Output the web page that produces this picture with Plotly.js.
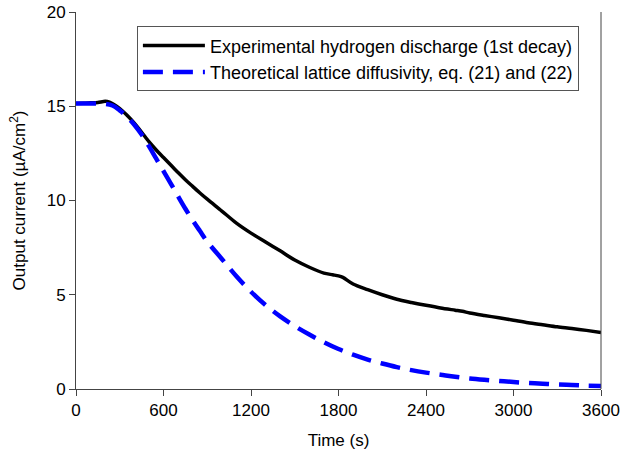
<!DOCTYPE html>
<html>
<head>
<meta charset="utf-8">
<script src="https://cdn.plot.ly/plotly-3.0.1.min.js"></script>
<style>html,body{margin:0;padding:0;background:#fff;}</style>
</head>
<body>
<div id="chart" style="width:620px;height:460px;"></div>
<script>
var expTime = [0,50,100,150,200,230,260,300,350,400,450,500,550,600,650,700,750,800,850,900,1000,1100,1200,1300,1400,1500,1600,1700,1760,1800,1830,1900,2000,2100,2200,2300,2400,2500,2600,2650,2700,2800,2900,3000,3100,3200,3300,3400,3500,3600];
var expCurrent = [15.15,15.16,15.18,15.2,15.26,15.22,15.1,14.88,14.52,14.1,13.62,13.12,12.68,12.28,11.88,11.48,11.1,10.75,10.4,10.07,9.44,8.8,8.27,7.8,7.33,6.84,6.46,6.15,6.06,6.0,5.92,5.57,5.27,5.0,4.76,4.59,4.44,4.3,4.18,4.12,4.03,3.9,3.78,3.65,3.52,3.41,3.3,3.21,3.11,3.0];

var theoTime = [0,100,200,250,300,350,400,450,500,550,600,650,700,750,800,850,900,1000,1100,1200,1300,1400,1500,1600,1700,1800,1900,2000,2100,2200,2300,2400,2500,2600,2700,2800,2900,3000,3100,3200,3300,3400,3500,3600];
var theoCurrent = [15.15,15.15,15.13,15.04,14.78,14.45,14.02,13.5,12.88,12.22,11.56,10.9,10.22,9.56,8.95,8.38,7.82,6.9,5.98,5.16,4.45,3.85,3.34,2.89,2.48,2.12,1.82,1.56,1.35,1.16,1.0,0.87,0.76,0.65,0.56,0.49,0.43,0.37,0.32,0.28,0.24,0.21,0.18,0.16];

var xTicks = [0,600,1200,1800,2400,3000,3600];
var yTicks = [0,5,10,15,20];
var seriesNames = ["Experimental hydrogen discharge (1st decay)", "Theoretical lattice diffusivity, eq. (21) and (22)"];

var fontFam = "Arial, 'Liberation Sans', sans-serif";

var traces = [
  {x: expTime, y: expCurrent, name: seriesNames[0], mode: 'lines',
   line: {color: '#000000', width: 3.5, shape: 'spline', smoothing: 0.8}},
  {x: theoTime, y: theoCurrent, name: seriesNames[1], mode: 'lines',
   line: {color: '#0000ff', width: 4.5, dash: '20px,10px', shape: 'spline', smoothing: 1}}
];

var axisCommon = {
  showgrid: false, zeroline: false, showline: true, linecolor: '#444', linewidth: 1,
  ticks: 'outside', ticklen: 6, tickcolor: '#444', tickwidth: 1,
  tickfont: {family: fontFam, size: 17, color: '#000'}
};

var layout = {
  width: 620, height: 460,
  margin: {l: 76, r: 19, t: 12, b: 71},
  paper_bgcolor: '#fff', plot_bgcolor: '#fff',
  font: {family: fontFam, color: '#000'},
  showlegend: true,
  legend: {x: 0.116, y: 0.962, xanchor: 'left', yanchor: 'top',
    bordercolor: '#555', borderwidth: 1, bgcolor: '#fff',
    font: {family: fontFam, size: 18, color: '#000'},
    itemwidth: 62, tracegroupgap: 0},
  xaxis: Object.assign({}, axisCommon, {
    range: [0, 3600], tickvals: xTicks, ticktext: xTicks.map(String),
    title: {text: 'Time (s)', font: {family: fontFam, size: 17, color: '#000'}, standoff: 14}
  }),
  yaxis: Object.assign({}, axisCommon, {
    range: [0, 20], tickvals: yTicks, ticktext: yTicks.map(String),
    title: {text: 'Output current (µA/cm<sup>2</sup>)', font: {family: fontFam, size: 17, color: '#000'}, standoff: 16}
  }),
  shapes: [{type: 'line', xref: 'paper', yref: 'paper', x0: 1, x1: 1, y0: 0, y1: 1,
    line: {color: '#444', width: 1}}]
};

Plotly.newPlot('chart', traces, layout, {displayModeBar: false, staticPlot: true});
</script>
</body>
</html>
